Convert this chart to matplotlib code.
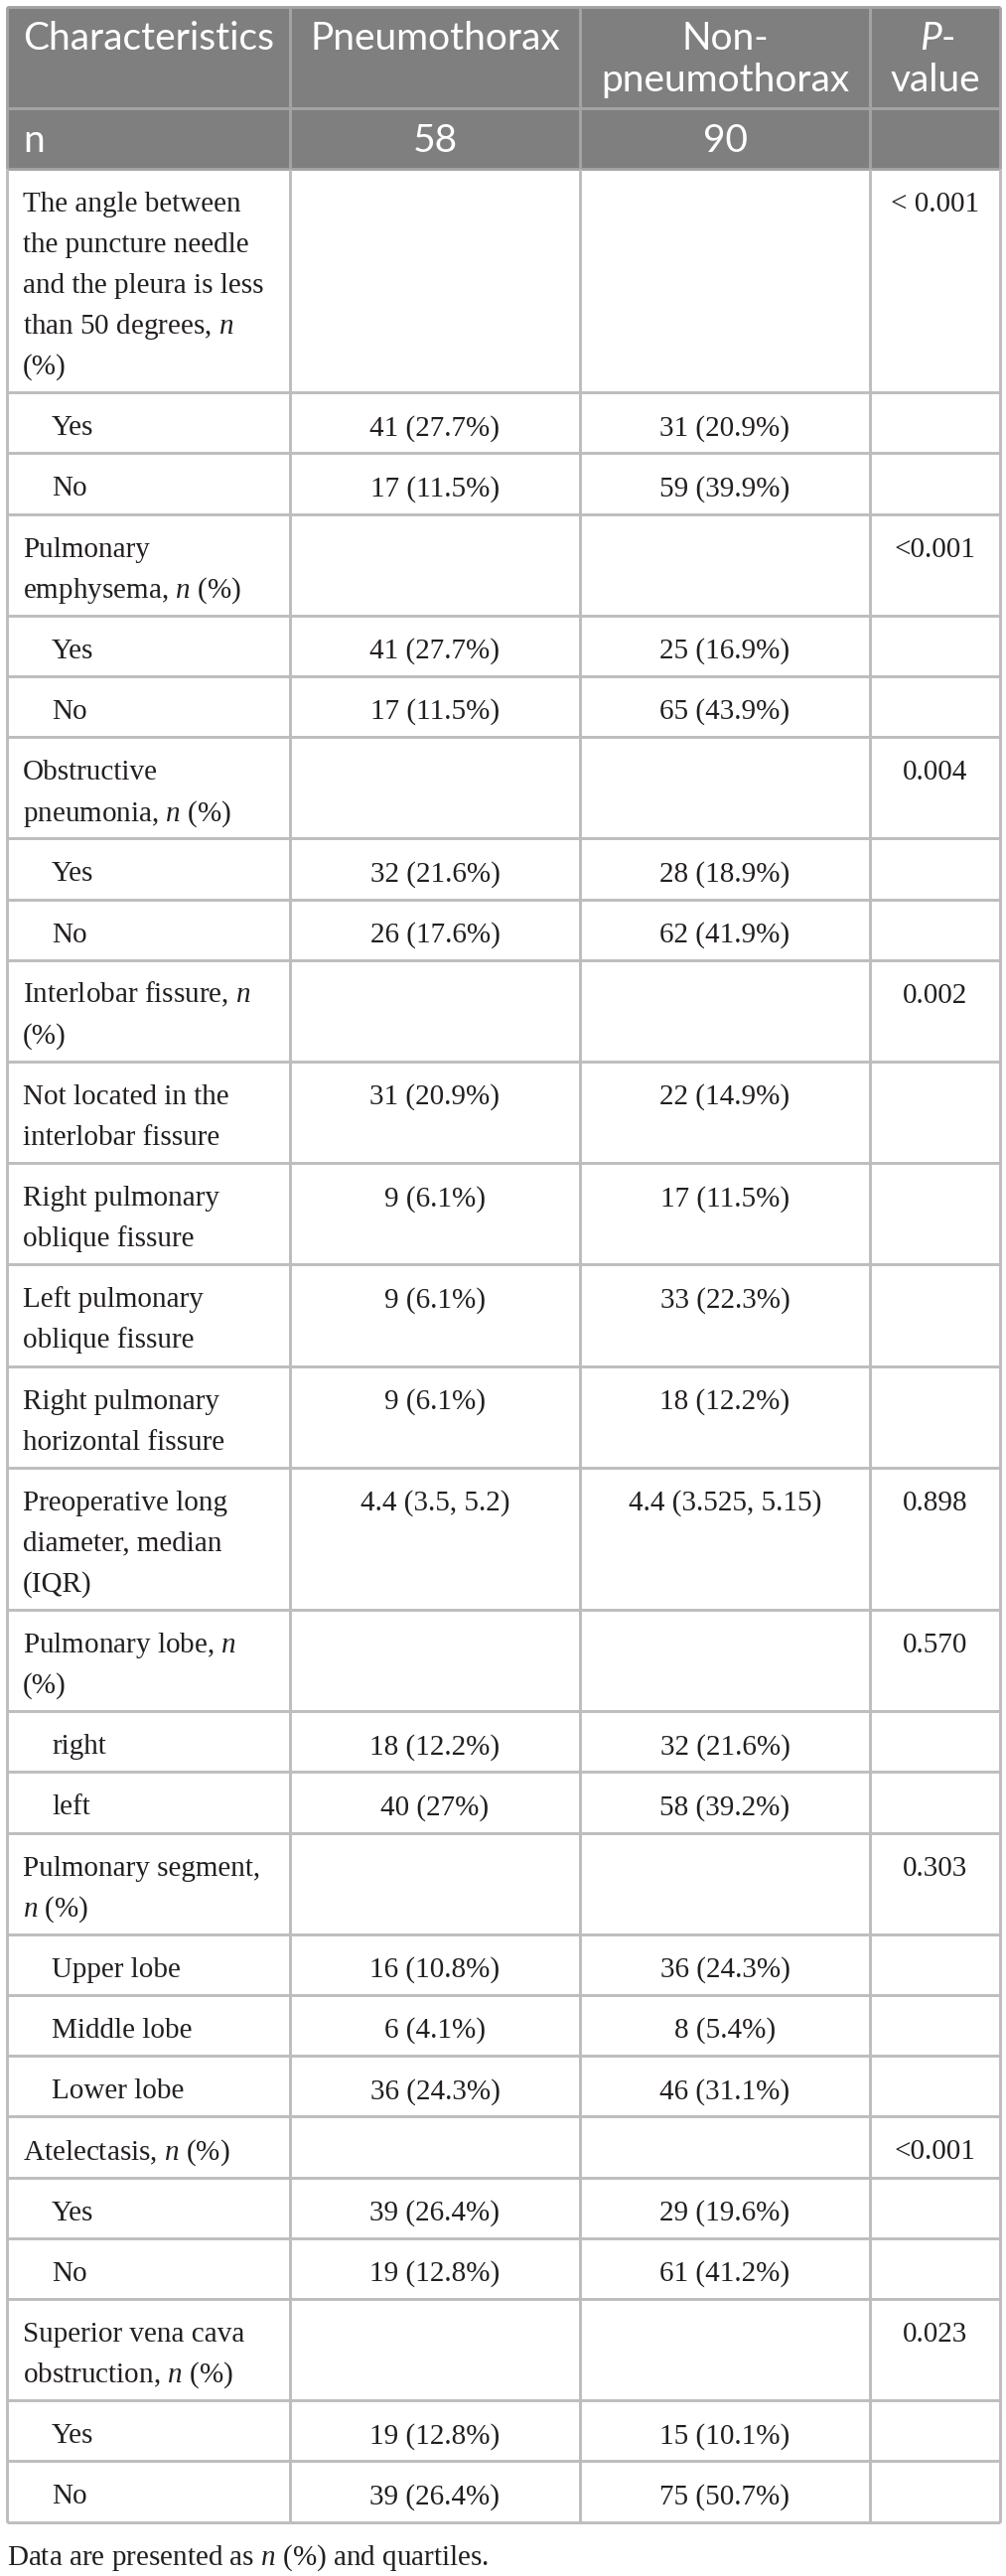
import matplotlib
matplotlib.use('Agg')
import matplotlib.pyplot as plt
from matplotlib.patches import Rectangle

plt.rcParams['mathtext.fontset'] = 'custom'
plt.rcParams['mathtext.rm'] = 'Liberation Serif'
plt.rcParams['mathtext.it'] = 'Liberation Serif:italic'

# table content
header = ["Characteristics", "Pneumothorax", "Non-\npneumothorax", "P-\nvalue"]
n_row = ["n", "58", "90", ""]

labels = [
    "The angle between\nthe puncture needle\nand the pleura is less\nthan 50 degrees, $n$\n(%)",
    "Yes", "No",
    "Pulmonary\nemphysema, $n$ (%)",
    "Yes", "No",
    "Obstructive\npneumonia, $n$ (%)",
    "Yes", "No",
    "Interlobar fissure, $n$\n(%)",
    "Not located in the\ninterlobar fissure",
    "Right pulmonary\noblique fissure",
    "Left pulmonary\noblique fissure",
    "Right pulmonary\nhorizontal fissure",
    "Preoperative long\ndiameter, median\n(IQR)",
    "Pulmonary lobe, $n$\n(%)",
    "right", "left",
    "Pulmonary segment,\n$n$ (%)",
    "Upper lobe", "Middle lobe", "Lower lobe",
    "Atelectasis, $n$ (%)",
    "Yes", "No",
    "Superior vena cava\nobstruction, $n$ (%)",
    "Yes", "No",
]
indented = ["Yes", "No", "right", "left", "Upper lobe", "Middle lobe", "Lower lobe"]

pneumo = ["", "41 (27.7%)", "17 (11.5%)", "", "41 (27.7%)", "17 (11.5%)",
          "", "32 (21.6%)", "26 (17.6%)", "", "31 (20.9%)", "9 (6.1%)",
          "9 (6.1%)", "9 (6.1%)", "4.4 (3.5, 5.2)", "", "18 (12.2%)", "40 (27%)",
          "", "16 (10.8%)", "6 (4.1%)", "36 (24.3%)", "", "39 (26.4%)",
          "19 (12.8%)", "", "19 (12.8%)", "39 (26.4%)"]
non_pneumo = ["", "31 (20.9%)", "59 (39.9%)", "", "25 (16.9%)", "65 (43.9%)",
              "", "28 (18.9%)", "62 (41.9%)", "", "22 (14.9%)", "17 (11.5%)",
              "33 (22.3%)", "18 (12.2%)", "4.4 (3.525, 5.15)", "", "32 (21.6%)", "58 (39.2%)",
              "", "36 (24.3%)", "8 (5.4%)", "46 (31.1%)", "", "29 (19.6%)",
              "61 (41.2%)", "", "15 (10.1%)", "75 (50.7%)"]
p_values = ["< 0.001", "", "", "<0.001", "", "", "0.004", "", "", "0.002",
            "", "", "", "", "0.898", "0.570", "", "", "0.303", "", "", "",
            "<0.001", "", "", "0.023", "", ""]

footnote = "Data are presented as $n$ (%) and quartiles."

# layout (pixels)
W, H = 1013, 2594
col_edges = [7, 292, 584, 876, 1007]
top = 7
head_h, nrow_h = 102, 61
row_h1, line_step = 61.2, 41.0
base_off = 43
pad = 16
indent = 29

HEAD_BG = '#7f7f7f'
HEAD_LINE = '#a4a4a4'
BODY_LINE = '#bdbdbd'
TXT = '#231f20'
serif = 'Liberation Serif'
sans = 'Lato'
fs_body = 21
fs_head = 28

fig = plt.figure(figsize=(W / 100, H / 100), dpi=100)
ax = fig.add_axes([0, 0, 1, 1])
ax.set_xlim(0, W)
ax.set_ylim(H, 0)
ax.axis('off')

centers = [(col_edges[i] + col_edges[i + 1]) / 2 for i in range(4)]

# header block
ax.add_patch(Rectangle((col_edges[0], top), col_edges[-1] - col_edges[0], head_h + nrow_h,
                       facecolor=HEAD_BG, edgecolor='none', zorder=0))

for i, h in enumerate(header):
    lines = h.split('\n')
    for k, ln in enumerate(lines):
        y = top + base_off + k * 42
        if i == 0:
            ax.text(col_edges[0] + pad, y, ln, fontsize=fs_head, family=sans,
                    color='white', va='baseline', ha='left')
        elif i == 3 and k == 0:
            t = ax.text(centers[i] + 6, y, 'P', fontsize=fs_head, family=sans,
                        style='italic', color='white', va='baseline', ha='right')
            ax.annotate('-', xy=(1, 0), xycoords=t, fontsize=fs_head, family=sans,
                        color='white', va='bottom', ha='left')
        else:
            ax.text(centers[i], y, ln, fontsize=fs_head, family=sans,
                    color='white', va='baseline', ha='center')

y_n = top + head_h
for i, v in enumerate(n_row):
    if not v:
        continue
    x = col_edges[0] + pad if i == 0 else centers[i]
    ax.text(x, y_n + 44, v, fontsize=fs_head, family=sans, color='white',
            va='baseline', ha='left' if i == 0 else 'center')

# body rows
y = y_n + nrow_h
row_tops = []
for r, lab in enumerate(labels):
    lines = lab.split('\n')
    h = row_h1 + line_step * (len(lines) - 1)
    row_tops.append(y)
    x0 = col_edges[0] + pad + (indent if lab in indented else 0)
    for k, ln in enumerate(lines):
        ax.text(x0, y + base_off + k * line_step, ln, fontsize=fs_body, family=serif,
                color=TXT, va='baseline', ha='left')
    for ci, vals in ((1, pneumo), (2, non_pneumo), (3, p_values)):
        if vals[r]:
            ax.text(centers[ci], y + base_off, vals[r], fontsize=fs_body, family=serif,
                    color=TXT, va='baseline', ha='center')
    y += h
bottom = y

# grid lines
lw = 2.1
ax.hlines([top, top + head_h, y_n + nrow_h], col_edges[0], col_edges[-1],
          color=HEAD_LINE, lw=lw, zorder=1)
ax.vlines(col_edges, top, y_n + nrow_h, color=HEAD_LINE, lw=lw, zorder=1)
ax.hlines(row_tops[1:] + [bottom], col_edges[0], col_edges[-1], color=BODY_LINE, lw=lw, zorder=1)
ax.vlines(col_edges, y_n + nrow_h, bottom, color=BODY_LINE, lw=lw, zorder=1)

ax.text(col_edges[0], bottom + 43, footnote, fontsize=fs_body, family=serif,
        color=TXT, va='baseline', ha='left')

fig.savefig('out.png', dpi=100)
